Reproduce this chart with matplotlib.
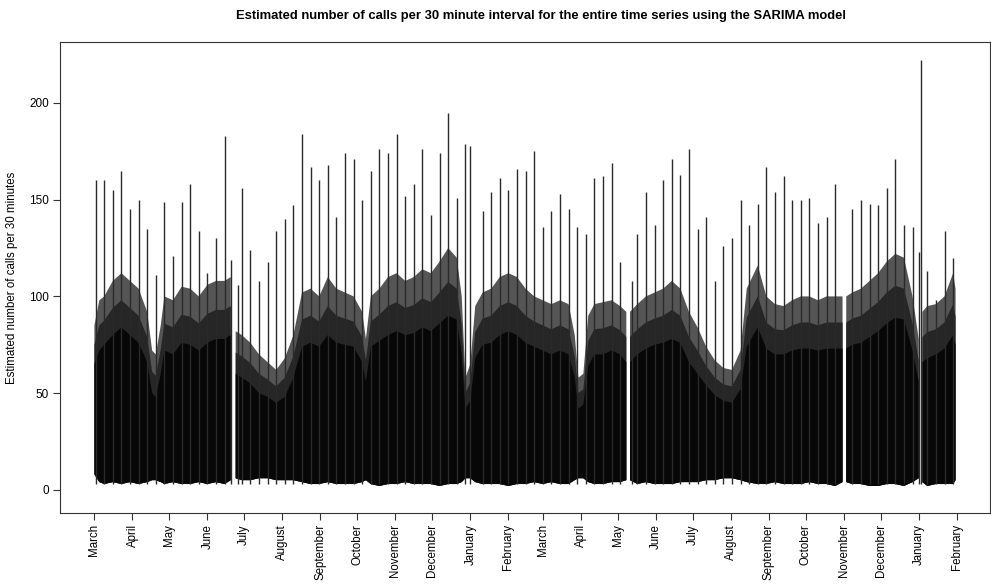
import numpy as np
import pandas as pd
import matplotlib
matplotlib.use("Agg")
import matplotlib.pyplot as plt

plt.rcParams["font.family"] = ["Liberation Sans", "DejaVu Sans"]

# Series starts on 1 March; positions below are day offsets from that date
start_date = "2013-03-01"

# Weekly peak half-hour (day offset, calls)
peak_day = [1, 8, 15, 22, 29, 36, 43, 50, 57, 64, 71, 78, 85, 92, 99, 106, 111,
            117, 120, 127, 134, 141, 148, 155, 162, 169, 176, 183, 190, 197, 204,
            211, 218, 225, 232, 239, 246, 253, 260, 267, 274, 281, 288, 295, 302,
            306, 316, 323, 330, 337, 344, 351, 358, 365, 372, 379, 386, 393, 400,
            407, 414, 421, 428, 438, 442, 449, 456, 463, 470, 477, 484, 491, 498,
            505, 512, 519, 526, 533, 540, 547, 554, 561, 568, 575, 582, 589, 596,
            603, 617, 624, 631, 638, 645, 652, 659, 666, 671, 673, 678, 685, 692, 699]
peak_calls = [160, 160, 155, 165, 145, 150, 135, 111, 149, 121, 149, 158, 134, 112, 130, 183, 119,
              106, 156, 124, 108, 118, 134, 140, 147, 184, 167, 160, 168, 141, 174,
              171, 150, 165, 176, 174, 184, 152, 158, 176, 142, 174, 195, 151, 179,
              178, 144, 154, 161, 155, 166, 165, 175, 136, 144, 153, 145, 136, 132,
              161, 162, 169, 118, 108, 132, 154, 137, 160, 171, 163, 176, 135, 141,
              108, 126, 130, 150, 137, 148, 167, 154, 162, 150, 150, 151, 138, 141,
              158, 145, 150, 148, 147, 156, 171, 137, 136, 123, 222, 113, 98, 134, 120]

# Envelope of the half-hourly counts (NaN = no data recorded)
band_day = [0, 4, 8, 15, 22, 29, 36, 43, 47, 50, 54, 57, 64, 71, 78, 85, 92, 99, 106, 111,
            113, 115, 120, 127, 134, 141, 148, 155, 162, 169, 176, 183, 190, 197, 204,
            211, 218, 221, 225, 232, 239, 246, 253, 260, 267, 274, 281, 288, 295, 299,
            302, 306, 310, 316, 323, 330, 337, 344, 351, 358, 365, 372, 379, 386, 391,
            394, 398, 402, 407, 414, 421, 428, 433, 434, 436, 442, 449, 456, 463, 470,
            477, 484, 491, 498, 505, 512, 519, 526, 531, 540, 547, 554, 561, 568, 575,
            582, 589, 596, 603, 609, 610, 612, 617, 624, 631, 638, 645, 652, 659, 666,
            671, 672, 674, 678, 685, 692, 699, 701]
# daytime highs
band_top = [85, 98, 100, 108, 112, 108, 104, 92, 72, 70, 85, 100, 98, 105, 104, 100, 106, 108, 108, 110,
            np.nan, 82, 80, 76, 70, 66, 62, 68, 80, 102, 104, 100, 110, 104, 102,
            100, 92, 78, 100, 104, 110, 112, 108, 110, 114, 112, 118, 125, 120, 100,
            58, 65, 95, 102, 104, 110, 112, 110, 104, 100, 98, 96, 98, 96, 80,
            58, 60, 90, 96, 97, 98, 95, 92, np.nan, 92, 96, 100, 102, 104, 108,
            104, 92, 84, 74, 67, 63, 62, 72, 104, 116, 100, 96, 95, 98, 100,
            100, 98, 100, 100, 100, np.nan, 100, 102, 104, 108, 112, 118, 122, 120, 100,
            78, np.nan, 92, 95, 96, 100, 112, 104]
# typical weekday level (upper edge of the dense part)
band_mid = [65, 72, 75, 80, 84, 80, 76, 66, 50, 48, 60, 72, 70, 76, 75, 72, 76, 78, 78, 80,
            np.nan, 60, 58, 55, 50, 48, 45, 48, 58, 74, 76, 74, 80, 76, 75,
            74, 66, 56, 74, 77, 80, 82, 80, 81, 84, 82, 86, 90, 88, 70,
            42, 46, 68, 75, 76, 80, 82, 80, 76, 74, 72, 70, 72, 70, 58,
            42, 44, 64, 70, 70, 72, 70, 66, np.nan, 66, 70, 73, 75, 76, 78,
            76, 66, 60, 54, 49, 46, 45, 52, 74, 84, 73, 70, 70, 72, 73,
            73, 72, 73, 73, 73, np.nan, 73, 75, 76, 79, 82, 86, 89, 88, 72,
            56, np.nan, 66, 68, 70, 73, 80, 75]
# overnight lows
band_low = [8, 4, 3, 4, 3, 4, 3, 4, 5, 5, 4, 3, 4, 3, 3, 4, 3, 4, 3, 5,
            np.nan, 6, 5, 5, 6, 6, 5, 5, 5, 4, 3, 3, 4, 3, 3,
            3, 4, 5, 3, 2, 3, 3, 4, 3, 3, 3, 2, 3, 3, 4,
            6, 6, 4, 3, 3, 3, 2, 3, 3, 4, 3, 4, 3, 3, 5,
            6, 6, 4, 3, 3, 4, 4, 5, np.nan, 5, 3, 4, 3, 3, 3,
            4, 4, 4, 5, 5, 6, 6, 5, 4, 3, 3, 4, 3, 3, 3,
            4, 3, 3, 2, 4, np.nan, 4, 3, 3, 2, 2, 3, 3, 2, 4,
            6, np.nan, 4, 2, 3, 3, 3, 5]

# Month tick labels (first day of each month)
month_names = ["March", "April", "May", "June", "July", "August", "September",
               "October", "November", "December", "January", "February"]

t0 = pd.Timestamp(start_date)
ticks = pd.date_range(t0, periods=24, freq="MS")
tick_pos = np.asarray((ticks - t0).days, dtype=float)
tick_labels = [month_names[i % 12] for i in range(24)]

x = np.asarray(band_day, dtype=float)
top = np.asarray(band_top, dtype=float)
mid = np.asarray(band_mid, dtype=float)
low = np.asarray(band_low, dtype=float)

fig = plt.figure(figsize=(9.91, 5.87), dpi=100)
ax = fig.add_axes([0.0605, 0.126, 0.9385, 0.8024])

# full range, shaded lighter where the half-hourly trace is sparse
ax.fill_between(x, low, top, color="#555555", linewidth=0, zorder=2)
ax.fill_between(x, low, (mid + top) / 2, color="#262626", linewidth=0, zorder=3)
ax.fill_between(x, low, mid, color="#070707", linewidth=0, zorder=4)
ax.vlines(np.asarray(peak_day, dtype=float), 3, peak_calls,
          color="#2a2a2a", linewidth=1.0, zorder=5)

span = x.max() - x.min()
ax.set_xlim(x.min() - span * 0.04, x.max() + span * 0.04)
ax.set_ylim(-12, 231.5)

ax.set_xticks(tick_pos)
ax.set_xticklabels(tick_labels, rotation=90, fontsize=8.3)
ax.set_yticks([0, 50, 100, 150, 200])
ax.set_yticklabels(["0", "50", "100", "150", "200"], fontsize=8.5)
ax.tick_params(axis="both", length=5, width=0.8, color="#333333", pad=3)
for s in ax.spines.values():
    s.set_color("#333333")
    s.set_linewidth(0.8)

ax.set_ylabel("Estimated number of calls per 30 minutes", fontsize=8.3, labelpad=8)
fig.suptitle("Estimated number of calls per 30 minute interval for the entire time series using the SARIMA model",
             fontsize=9.4, fontweight="bold", x=0.546, y=0.983)

fig.savefig("out.png", dpi=100)
